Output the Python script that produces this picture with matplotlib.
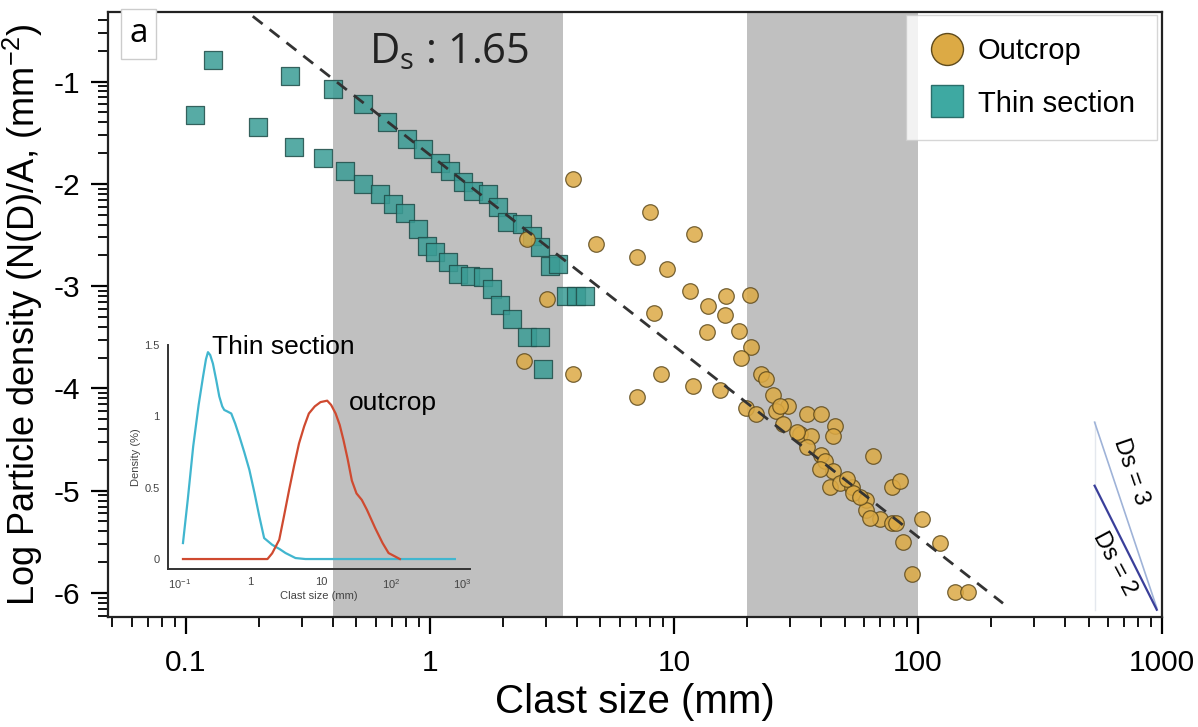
import numpy as np
import matplotlib
matplotlib.use("Agg")
import matplotlib.pyplot as plt
from matplotlib.ticker import FixedLocator, FixedFormatter, NullFormatter
from matplotlib.lines import Line2D

plt.rcParams['font.family'] = ['Liberation Sans', 'DejaVu Sans']
plt.rcParams['axes.unicode_minus'] = False
plt.rcParams['mathtext.default'] = 'regular'

# ---------------- data ----------------
# Thin section (upper trend)
ts_upper_size = [0.129, 0.267, 0.40, 0.531, 0.667, 0.805, 0.936, 1.10, 1.21, 1.37,
                 1.50, 1.73, 1.90, 2.07, 2.38, 2.62, 2.82, 3.10, 3.35]
ts_upper_logd = [-0.79, -0.95, -1.07, -1.22, -1.40, -1.56, -1.66, -1.80, -1.87, -1.98,
                 -2.07, -2.10, -2.23, -2.37, -2.39, -2.51, -2.62, -2.80, -2.78]
# Thin section (lower trend)
ts_lower_size = [0.109, 0.197, 0.277, 0.364, 0.449, 0.531, 0.624, 0.705, 0.79, 0.893,
                 0.97, 1.05, 1.19, 1.30, 1.46, 1.65, 1.79, 1.93, 2.17, 2.50,
                 2.82, 2.90, 3.6, 3.95, 4.3]
ts_lower_logd = [-1.33, -1.44, -1.64, -1.75, -1.87, -2.00, -2.10, -2.20, -2.29, -2.44,
                 -2.61, -2.67, -2.76, -2.88, -2.90, -2.91, -3.03, -3.18, -3.32, -3.50,
                 -3.50, -3.81, -3.10, -3.10, -3.10]
# Outcrop
oc_size = [3.87, 7.97, 12.1, 4.79, 7.07, 9.33, 11.6, 13.8, 16.3, 20.5,
           16.2, 8.28, 13.6, 18.5, 20.6, 18.8, 2.49, 3.01, 2.43, 3.87,
           8.89, 7.07, 12.0, 15.4, 19.8, 21.7, 22.8, 23.9, 25.5, 29.4,
           26.2, 27.9, 35.0, 40.1, 45.5, 44.8, 32.9, 36.6, 35.0, 40.1,
           41.4, 44.8, 43.5, 47.8, 53.4, 54.3, 61.3, 61.3, 69.6, 78.0,
           81.6, 65.3, 78.0, 84.2, 103.6, 87.0, 123, 94.2, 142, 161,
           63.5, 27.1, 51.1, 39.6, 31.8, 57.6]
oc_logd = [-1.95, -2.28, -2.49, -2.59, -2.72, -2.83, -3.05, -3.19, -3.10, -3.09,
           -3.28, -3.26, -3.45, -3.44, -3.60, -3.70, -2.54, -3.13, -3.73, -3.86,
           -3.86, -4.08, -3.98, -4.02, -4.19, -4.25, -3.86, -3.91, -4.06, -4.17,
           -4.22, -4.35, -4.25, -4.25, -4.37, -4.47, -4.45, -4.47, -4.57, -4.65,
           -4.71, -4.81, -4.96, -4.92, -4.96, -5.02, -5.09, -5.19, -5.28, -5.32,
           -5.32, -4.66, -4.96, -4.91, -5.28, -5.50, -5.51, -5.81, -5.99, -5.99,
           -5.27, -4.17, -4.89, -4.79, -4.43, -5.06]

# Power-law fit line (log-space)
fit_slope = -1.867
fit_intercept = -1.717
fit_range = [0.188, 223]

# Shaded size windows (mm)
bands = [(0.4, 3.5), (20, 100)]

# Inset: density curves
inset_ts_size = [0.111, 0.13, 0.155, 0.185, 0.214, 0.235, 0.251, 0.27, 0.295, 0.33,
                 0.363, 0.40, 0.427, 0.47, 0.537, 0.61, 0.70, 0.82, 0.97, 1.15,
                 1.34, 1.57, 2.04, 2.6, 3.16, 4.37, 6.03, 794]
inset_ts_dens = [0.112, 0.42, 0.79, 1.08, 1.28, 1.40, 1.45, 1.43, 1.37, 1.25,
                 1.14, 1.07, 1.045, 1.035, 1.02, 0.95, 0.86, 0.75, 0.625, 0.46,
                 0.30, 0.147, 0.10, 0.07, 0.042, 0.007, 0.0, 0.0]
inset_oc_size = [0.111, 1.75, 2.04, 2.57, 3.0, 3.55, 4.2, 4.90, 5.8, 6.76,
                 8.2, 9.89, 12.3, 14.0, 16.2, 18.5, 20.9, 24.0, 27.5, 32.0,
                 38.0, 45.0, 58.9, 75.0, 91.2, 132]
inset_oc_dens = [0.0, 0.0, 0.04, 0.135, 0.30, 0.485, 0.66, 0.81, 0.93, 1.02,
                 1.07, 1.10, 1.11, 1.08, 1.02, 0.94, 0.835, 0.70, 0.55, 0.46,
                 0.415, 0.345, 0.217, 0.112, 0.042, 0.0]

x_ticks = [0.1, 1, 10, 100, 1000]
x_ticklabels = ['0.1', '1', '10', '100', '1000']
y_ticks = [-1, -2, -3, -4, -5, -6]
y_ticklabels = ['-1', '-2', '-3', '-4', '-5', '-6']
inset_xticks = [0.1, 1, 10, 100, 1000]
inset_xticklabels = ['10$^{-1}$', '1', '10', '10$^{2}$', '10$^{3}$']
inset_yticks = [0, 0.5, 1, 1.5]
inset_yticklabels = ['0', '0.5', '1', '1.5']

# ---------------- styles ----------------
c_oc_face = '#dcaa45'
c_oc_edge = '#5e4a1c'
c_ts_face = '#3a9c95'
c_ts_edge = '#1f4d49'
c_band = '#c0c0c0'

fig = plt.figure(figsize=(11.98, 7.27), dpi=100)
ax = fig.add_axes([0.0902, 0.1513, 0.8798, 0.8322])

for lo, hi in bands:
    ax.axvspan(lo, hi, color=c_band, lw=0, zorder=0)

ax.scatter(ts_upper_size, ts_upper_logd, marker='s', s=150, facecolor=c_ts_face,
           edgecolor=c_ts_edge, linewidth=0.9, alpha=0.85, zorder=3)
ax.scatter(ts_lower_size, ts_lower_logd, marker='s', s=150, facecolor=c_ts_face,
           edgecolor=c_ts_edge, linewidth=0.9, alpha=0.85, zorder=3)
ax.scatter(oc_size, oc_logd, marker='o', s=125, facecolor=c_oc_face,
           edgecolor=c_oc_edge, linewidth=0.9, alpha=0.85, zorder=4)

fx = np.array(fit_range)
fy = fit_intercept + fit_slope * np.log10(fx)
ax.plot(fx, fy, ls=(0, (4.5, 3.2)), color='#333333', lw=2.0, zorder=5)

ax.set_xscale('log')
ax.set_xlim(0.048, 1000)
ax.set_ylim(-6.235, -0.32)

ax.xaxis.set_major_locator(FixedLocator(x_ticks))
ax.xaxis.set_major_formatter(FixedFormatter(x_ticklabels))
minor_x = [k * 10.0 ** e for e in range(-2, 3) for k in range(2, 10)]
ax.xaxis.set_minor_locator(FixedLocator(minor_x))
ax.xaxis.set_minor_formatter(NullFormatter())

ax.yaxis.set_major_locator(FixedLocator(y_ticks))
ax.yaxis.set_major_formatter(FixedFormatter(y_ticklabels))
minor_y = [e + np.log10(k) for e in range(-7, 0) for k in range(2, 10)]
ax.yaxis.set_minor_locator(FixedLocator(minor_y))

ax.tick_params(axis='both', which='major', direction='out', length=12, width=1.6,
               labelsize=21.5, pad=8)
ax.tick_params(axis='x', which='major', pad=11)
ax.tick_params(axis='both', which='minor', direction='out', length=7, width=1.3)
for sp in ax.spines.values():
    sp.set_linewidth(1.6)
    sp.set_color('#222222')

ax.set_xlabel('Clast size (mm)', fontsize=29, labelpad=4)
ax.set_ylabel('Log Particle density (N(D)/A, (mm$^{-2}$)', fontsize=26, labelpad=6)

# legend
h_oc = Line2D([], [], marker='o', ls='none', markersize=23, markerfacecolor=c_oc_face,
              markeredgecolor=c_oc_edge, markeredgewidth=1.0)
h_ts = Line2D([], [], marker='s', ls='none', markersize=23, markerfacecolor='#3ea9a2',
              markeredgecolor='#2a6e6a', markeredgewidth=1.0)
leg = ax.legend([h_oc, h_ts], ['Outcrop', 'Thin section'], loc='upper right',
                bbox_to_anchor=(0.995, 0.995), borderaxespad=0.0, fontsize=21,
                frameon=True, fancybox=False, edgecolor='#cccccc', handletextpad=0.4,
                labelspacing=0.85, borderpad=0.75, handlelength=1.3)
leg.get_frame().set_linewidth(1.0)
leg.set_zorder(10)

# panel label and D_s annotation
ax.text(0.029, 0.964, 'a', transform=ax.transAxes, fontsize=24, ha='center', va='center',
        family=['Open Sans', 'DejaVu Sans'],
        bbox=dict(boxstyle='square,pad=0.25', fc='white', ec='#cccccc', lw=1.0), zorder=10)
ax.text(0.3235, 0.934, 'D$_{s}$ : 1.65', transform=ax.transAxes, fontsize=30,
        ha='center', va='center', family=['Open Sans', 'DejaVu Sans'], color='#222222',
        zorder=10)

# reference slopes graphic (bottom right)
ax.plot([0.936, 0.936], [0.322, 0.012], transform=ax.transAxes, color='#e4e8ee', lw=1.0)
ax.plot([0.936, 0.995], [0.322, 0.015], transform=ax.transAxes, color='#9fb3d8', lw=1.2)
ax.plot([0.936, 0.995], [0.217, 0.012], transform=ax.transAxes, color='#3a3f9a', lw=1.6)
ax.text(0.970, 0.240, 'Ds = 3', transform=ax.transAxes, fontsize=17, rotation=-71,
        ha='center', va='center')
ax.text(0.955, 0.089, 'Ds = 2', transform=ax.transAxes, fontsize=17, rotation=-62,
        ha='center', va='center')

# inset
axi = fig.add_axes([0.1402, 0.2173, 0.2521, 0.3081])
axi.patch.set_alpha(0)
axi.plot(inset_ts_size, inset_ts_dens, color='#41b6cf', lw=1.6)
axi.plot(inset_oc_size, inset_oc_dens, color='#cf4a30', lw=1.6)
axi.set_xscale('log')
axi.set_xlim(0.068, 1300)
axi.set_ylim(-0.07, 1.5)
axi.xaxis.set_major_locator(FixedLocator(inset_xticks))
axi.xaxis.set_major_formatter(FixedFormatter(inset_xticklabels))
axi.xaxis.set_minor_locator(FixedLocator([]))
axi.yaxis.set_major_locator(FixedLocator(inset_yticks))
axi.yaxis.set_major_formatter(FixedFormatter(inset_yticklabels))
axi.tick_params(length=0, labelsize=8, labelcolor='#444444', pad=6)
for s in ['top', 'right']:
    axi.spines[s].set_visible(False)
for s in ['left', 'bottom']:
    axi.spines[s].set_linewidth(1.4)
    axi.spines[s].set_color('#333333')
axi.set_xlabel('Clast size (mm)', fontsize=8, color='#444444', labelpad=0)
axi.set_ylabel('Density (%)', fontsize=8, color='#444444', labelpad=2)
axi.text(0.145, 0.99, 'Thin section', transform=axi.transAxes, fontsize=19,
         ha='left', va='center')
axi.text(0.60, 0.74, 'outcrop', transform=axi.transAxes, fontsize=19,
         ha='left', va='center')

fig.savefig('out.png', dpi=100)
